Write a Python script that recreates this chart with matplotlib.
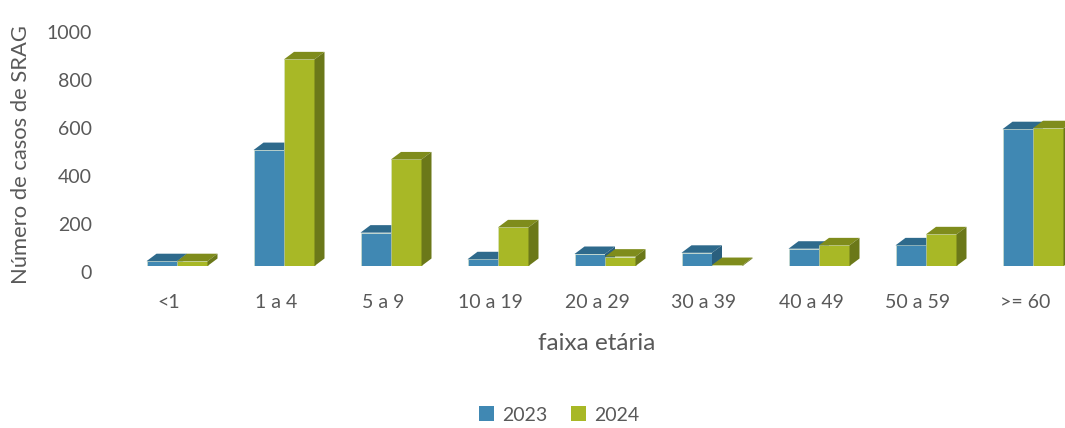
import matplotlib
matplotlib.use("Agg")
import matplotlib.pyplot as plt
from matplotlib.patches import Polygon, Patch
from matplotlib.transforms import ScaledTranslation
import numpy as np

categories = ["<1", "1 a 4", "5 a 9", "10 a 19", "20 a 29", "30 a 39", "40 a 49", "50 a 59", ">= 60"]
cases_2023 = [20, 483, 139, 28, 50, 55, 72, 86, 570]
cases_2024 = [20, 861, 444, 161, 39, 4, 86, 132, 574]
series_names = ["2023", "2024"]
yticks = [0, 200, 400, 600, 800, 1000]

colors_front = ["#4088B3", "#A8B826"]
colors_top = ["#2E6A8C", "#7F8C1C"]
colors_side = ["#2A5F7E", "#6B7819"]
text_color = "#595959"

plt.rcParams["font.family"] = ["Lato", "DejaVu Sans"]

W, H, DPI = 1065, 428, 100
fig = plt.figure(figsize=(W / DPI, H / DPI), dpi=DPI)

# axes placement in pixels
left_px, right_px, bottom_px, top_px = 131, 1065, 266, 10
ax = fig.add_axes([left_px / W, (H - bottom_px) / H, (right_px - left_px) / W, (bottom_px - top_px) / H])

px_per_unit_x = 107.0
px_per_val = 0.24
tick0_px = 169
ax.set_xlim((left_px - tick0_px) / px_per_unit_x, (right_px - tick0_px) / px_per_unit_x)
ax.set_ylim(0, (bottom_px - top_px) / px_per_val)

x = np.arange(len(categories))
bar_w = 30.5 / px_per_unit_x
shift = 8 / px_per_unit_x
dx = 10 / px_per_unit_x
dy = 7.5 / px_per_val

series = [cases_2023, cases_2024]
for s, vals in enumerate(series):
    z = 2 + 2 * s
    lefts = x + shift - bar_w + s * bar_w
    ax.bar(lefts, vals, width=bar_w, align="edge", color=colors_front[s],
           edgecolor="#d7e4c8", linewidth=0.4, zorder=z)
    for l, v in zip(lefts, vals):
        r = l + bar_w
        top = Polygon([[l, v], [r, v], [r + dx, v + dy], [l + dx, v + dy]],
                      closed=True, facecolor=colors_top[s], edgecolor="none", zorder=z + 0.5)
        side = Polygon([[r, 0], [r + dx, dy], [r + dx, v + dy], [r, v]],
                       closed=True, facecolor=colors_side[s], edgecolor="none", zorder=z + 0.5)
        ax.add_patch(top)
        ax.add_patch(side)

for sp in ax.spines.values():
    sp.set_visible(False)

ax.set_xticks(x)
ax.set_xticklabels(categories)
ax.set_yticks(yticks)
ax.set_yticklabels([str(t) for t in yticks])
ax.tick_params(axis="both", length=0, labelsize=14, labelcolor=text_color)
ax.tick_params(axis="y", pad=28)
ax.tick_params(axis="x", pad=20)
off = ScaledTranslation(0, -6 / DPI, fig.dpi_scale_trans)
for lbl in ax.get_yticklabels():
    lbl.set_transform(lbl.get_transform() + off)

fig.text(597 / W, 1 - 344 / H, "faixa etária", ha="center", va="center", fontsize=17.5, color=text_color)
fig.text(21 / W, 1 - 155 / H, "Número de casos de SRAG", ha="center", va="center",
         rotation=90, fontsize=15.8, color=text_color)

handles = [Patch(facecolor=colors_front[i], edgecolor="none", label=series_names[i]) for i in range(2)]
fig.legend(handles=handles, loc="center", bbox_to_anchor=(559 / W, 1 - 415 / H), ncol=2,
           frameon=False, fontsize=14, labelcolor=text_color, handlelength=0.8, handleheight=0.8,
           handletextpad=0.4, columnspacing=1.2)

fig.savefig("out.png", dpi=DPI)
